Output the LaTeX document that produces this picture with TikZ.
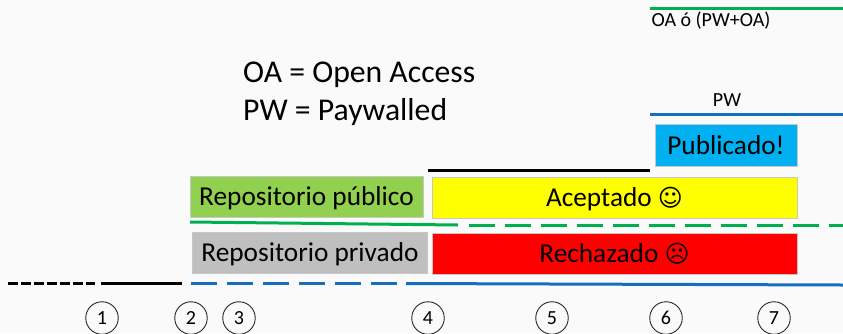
\documentclass[tikz,border=0pt]{standalone}
\usepackage{fontspec}
\setmainfont{Carlito}
\newfontfamily\symfont{DejaVu Sans}
\definecolor{oagreen}{RGB}{0,176,80}
\definecolor{pwblue}{RGB}{21,110,190}
\definecolor{boxgreen}{RGB}{146,208,80}
\definecolor{boxgray}{RGB}{191,191,191}
\definecolor{boxblue}{RGB}{0,176,240}
\definecolor{boxyellow}{RGB}{255,255,0}
\definecolor{boxred}{RGB}{255,0,0}
\tikzset{
  box/.style={draw=black!22,line width=0.8pt,inner sep=0pt,text=black,text height=18pt,text depth=0pt,font=\fontsize{27.3}{27.3}\selectfont},
  num/.style={circle,draw=black!85,line width=0.9pt,minimum size=32.5pt,inner sep=0pt,font=\fontsize{20}{20}\selectfont},
  legend/.style={anchor=base west,inner sep=0pt,font=\fontsize{31.7}{31.7}\selectfont},
  small/.style={inner sep=0pt,font=\fontsize{20}{20}\selectfont},
  stage/.style={line width=3pt},
  longdash/.style={line width=3pt,dash pattern=on 26.5pt off 9.5pt},
}
\begin{document}
\begin{tikzpicture}[x=1pt,y=-1pt]

\useasboundingbox[fill=black!2] (0,0) rectangle (843,333);

%boxes
\node[box,fill=boxgreen,minimum width=233pt,minimum height=41pt] (pub) at (306.5,196.5) {Repositorio público};
\node[box,fill=boxgray,minimum width=235pt,minimum height=41pt] (priv) at (310,252.5) {Repositorio privado};
\node[box,fill=boxyellow,minimum width=365pt,minimum height=41pt] (acc) at (614.5,197.5) {Aceptado {\symfont\fontsize{24}{24}\selectfont ☺}};
\node[box,fill=boxred,minimum width=365pt,minimum height=41pt] (rej) at (614.5,253.5) {Rechazado {\symfont\fontsize{24}{24}\selectfont ☹}};
\node[box,fill=boxblue,minimum width=142pt,minimum height=42pt] (done) at (726,145) {Publicado!};

%legend
\node[legend] (oa) at (243,82) {OA = Open Access};
\node[legend] (pw) at (243,120) {PW = Paywalled};
\node[small] (topl) at (711,21) {OA ó (PW+OA)};
\node[small] (pwl) at (727,100.5) {PW};

%top lines
\coordinate (a1) at (650,8);
\coordinate (a2) at (843,8);
\coordinate (b1) at (650,114);
\coordinate (b2) at (843,114);
\coordinate (c1) at (428,170.5);
\coordinate (c2) at (650,170.5);
\draw[stage,oagreen] (a1) -- (a2);
\draw[stage,pwblue] (b1) -- (b2);
\draw[stage,black] (c1) -- (c2);

%green line
\coordinate (d1) at (190,222);
\coordinate (d2) at (458,225);
\coordinate (d3) at (468.5,225);
\coordinate (d4) at (843,225);
\draw[stage,oagreen] (d1) -- (d2);
\draw[longdash,oagreen] (d3) -- (d4);

%base line
\coordinate (e1) at (8,283);
\coordinate (e2) at (95,283);
\coordinate (e3) at (101,283);
\coordinate (e4) at (182,283);
\coordinate (e5) at (190.5,283.5);
\coordinate (e6) at (406,283.5);
\coordinate (e7) at (843,285);
\draw[stage,black,dash pattern=on 9.5pt off 3.5pt] (e1) -- (e2);
\draw[stage,black] (e3) -- (e4);
\draw[longdash,pwblue] (e5) -- (e6);
\draw[stage,pwblue] (e6) -- (e7);

%steps
\foreach \x/\i in {102/1,191/2,239/3,428/4,552/5,666/6,774/7}
  \node[num] (n\i) at (\x,318) {\i};

\end{tikzpicture}
\end{document}
